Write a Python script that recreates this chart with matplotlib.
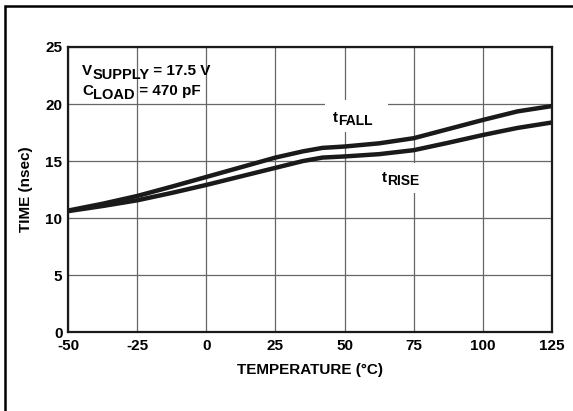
import numpy as np
import matplotlib.pyplot as plt
from matplotlib.patches import Rectangle
from matplotlib.transforms import IdentityTransform

plt.rcParams['font.family'] = ['Liberation Sans', 'DejaVu Sans']
plt.rcParams['font.weight'] = 'bold'
plt.rcParams['axes.unicode_minus'] = False

# values
temp = [-50, -37.5, -25, -12.5, 0, 12.5, 25, 35, 42, 50, 62.5, 75, 87.5, 100, 112.5, 125]
t_fall = [10.65, 11.25, 11.93, 12.75, 13.6, 14.45, 15.3, 15.85, 16.15, 16.27, 16.55,
          17.0, 17.8, 18.6, 19.35, 19.82]
t_rise = [10.6, 11.05, 11.55, 12.2, 12.9, 13.65, 14.4, 15.0, 15.3, 15.4, 15.6,
          15.95, 16.6, 17.28, 17.9, 18.38]

xticks = [-50, -25, 0, 25, 50, 75, 100, 125]
yticks = [0, 5, 10, 15, 20, 25]

fig = plt.figure(figsize=(5.73, 4.11), dpi=100)
fig.patches.append(Rectangle((5 / 573, -0.1), 1.2, 1 - 6 / 411 + 0.1, transform=fig.transFigure,
                             fill=False, edgecolor='black', linewidth=1.8))
ax = fig.add_axes([68 / 573, 79 / 411, 484 / 573, 285 / 411])

ax.plot(temp, t_fall, color='#1a1a1a', linewidth=3.2, solid_capstyle='butt', zorder=4)
ax.plot(temp, t_rise, color='#1a1a1a', linewidth=3.2, solid_capstyle='butt', zorder=4)

ax.set_xlim(-50, 125)
ax.set_ylim(0, 25)
ax.set_xticks(xticks)
ax.set_yticks(yticks)
ax.tick_params(length=0, labelsize=11)
ax.tick_params(axis='x', pad=5)
ax.tick_params(axis='y', pad=4)
for lab in ax.get_xticklabels() + ax.get_yticklabels():
    lab.set_fontweight('bold')
ax.grid(True, color='#666666', linewidth=0.9)
ax.set_axisbelow(True)
for s in ax.spines.values():
    s.set_linewidth(1.6)
    s.set_color('#1a1a1a')

ax.set_xlabel('TEMPERATURE (\u00b0C)', fontsize=11, fontweight='bold', labelpad=7)
ax.set_ylabel('TIME (nsec)', fontsize=11, fontweight='bold', labelpad=9)

# white gaps in the grid behind the curve labels
ax.add_patch(Rectangle((43, 17.55), 22.7, 2.8, facecolor='white', edgecolor='none', zorder=1))
ax.add_patch(Rectangle((62.8, 12.2), 18.1, 2.6, facecolor='white', edgecolor='none', zorder=1))


def rich_text(x, y, parts):
    # parts: (string, fontsize, vertical shift in pixels), drawn one after another
    r = fig.canvas.get_renderer()
    x0, y0 = ax.transData.transform((x, y))
    for s, size, dy in parts:
        t = ax.text(x0, y0 + dy, s, fontsize=size, fontweight='bold', ha='left',
                    va='baseline', transform=IdentityTransform(), zorder=3)
        x0 = t.get_window_extent(r).x1


rich_text(-44.9, 22.54, [('V', 11, 0), ('SUPPLY', 10.5, -4), (' = 17.5 V', 11, 0)])
rich_text(-44.9, 20.79, [('C', 11, 0), ('LOAD', 10.5, -4), (' = 470 pF', 11, 0)])
rich_text(45.8, 18.45, [('t', 11, 0), ('FALL', 10, -3.5)])
rich_text(63.4, 13.18, [('t', 11, 0), ('RISE', 10, -3)])

plt.savefig('out.png', dpi=100)
